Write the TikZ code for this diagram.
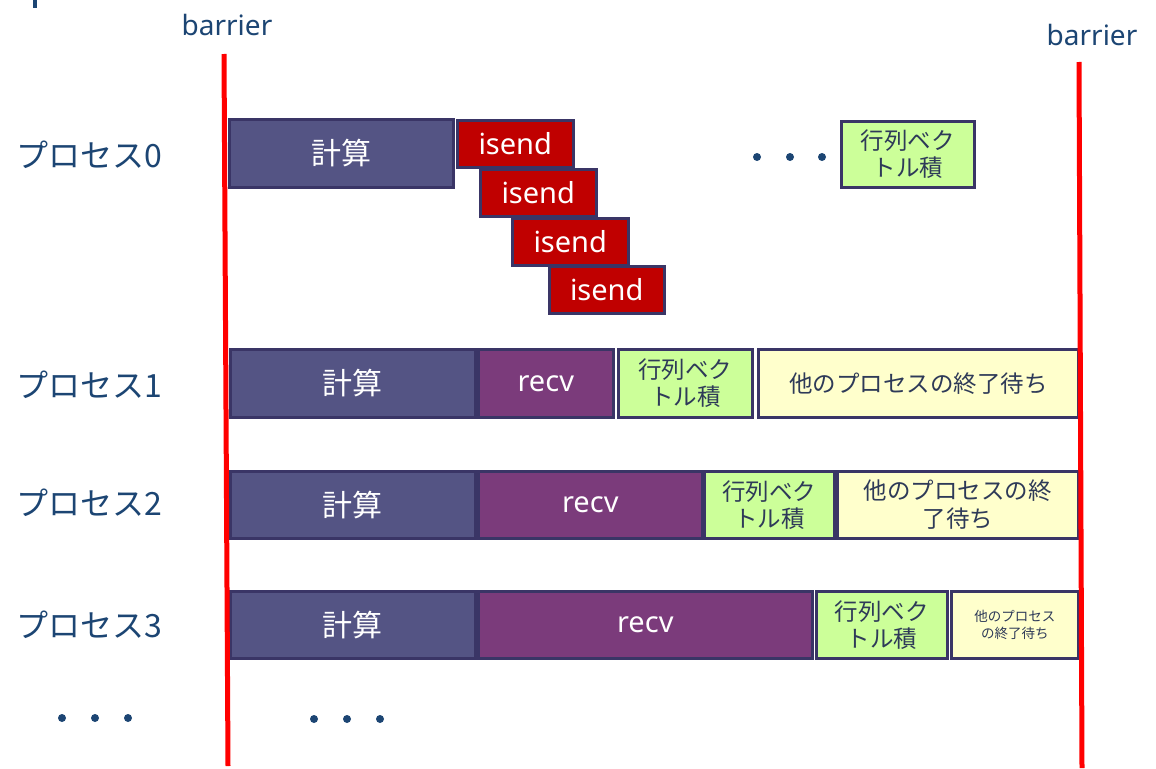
\documentclass[tikz,border=0pt]{standalone}
\usepackage{fontspec}
\setmainfont{Noto Sans}
\newfontfamily\jp{Noto Sans CJK JP}
\definecolor{navy}{HTML}{1C4573}
\definecolor{calcfill}{HTML}{545484}
\definecolor{edge}{HTML}{3A3566}
\definecolor{recvfill}{HTML}{7B3B7B}
\definecolor{sendfill}{HTML}{C00000}
\definecolor{matfill}{HTML}{CCFF99}
\definecolor{waitfill}{HTML}{FFFFCC}
\definecolor{boxtext}{HTML}{2E3A58}
\definecolor{barred}{HTML}{FF0000}
\begin{document}
\begin{tikzpicture}[x=1pt,y=-1pt,
  box/.style={draw=edge, line width=2.5pt, inner sep=0pt, anchor=north west, align=center},
  calcbox/.style={box, fill=calcfill, text=white, font=\jp\fontsize{30}{34}\selectfont},
  recvbox/.style={box, fill=recvfill, text=white, font=\fontsize{29}{32}\selectfont},
  sendbox/.style={box, fill=sendfill, text=white, font=\fontsize{29}{32}\selectfont},
  matbox/.style={box, fill=matfill, text=boxtext, font=\jp\fontsize{23.5}{27}\selectfont},
  waitbox/.style={box, fill=waitfill, text=boxtext, font=\jp\fontsize{23.5}{28}\selectfont},
  proc/.style={anchor=west, text=navy, inner sep=0pt, font=\jp\fontsize{32}{34}\selectfont},
  barlabel/.style={text=navy, inner sep=0pt, font=\fontsize{28}{30}\selectfont},
  barline/.style={draw=barred, line width=5pt},
  dot/.style={circle, fill=navy, inner sep=0pt, minimum size=8pt}
]
\useasboundingbox (0,0) rectangle (1156,768);

% fragment at top-left
\coordinate (fa) at (35,0);
\coordinate (fb) at (35,8);
\draw[navy, line width=4pt] (fa) -- (fb);

% barriers
\coordinate (b1t) at (224,54);
\coordinate (b1b) at (228,766);
\coordinate (b2t) at (1079,62);
\coordinate (b2b) at (1082,768);
\node[barlabel] (bl1) at (227,25) {barrier};
\node[barlabel] (bl2) at (1092,35) {barrier};

% process labels
\node[proc] (p0) at (16,155) {プロセス0};
\node[proc] (p1) at (16,385) {プロセス1};
\node[proc] (p2) at (16,503) {プロセス2};
\node[proc] (p3) at (16,625) {プロセス3};

% row 0
\node[calcbox, minimum width=224pt, minimum height=68pt] (c0) at (228,118) {計算};
\node[sendbox, minimum width=116pt, minimum height=47pt] (s1) at (456,119) {isend};
\node[sendbox, minimum width=116pt, minimum height=47pt] (s2) at (479,168) {isend};
\node[sendbox, minimum width=116pt, minimum height=47pt] (s3) at (511,217) {isend};
\node[sendbox, minimum width=115pt, minimum height=47pt] (s4) at (548,265) {isend};
\node[dot] (d01) at (757,157) {};
\node[dot] (d02) at (790,157) {};
\node[dot] (d03) at (822,157) {};
\node[matbox, minimum width=133pt, minimum height=66pt] (m0) at (840,120) {行列ベク\\トル積};

% row 1
\node[calcbox, minimum width=245pt, minimum height=68pt] (c1) at (229,348) {計算};
\node[recvbox, minimum width=135pt, minimum height=68pt] (r1) at (477,348) {recv};
\node[matbox, minimum width=134pt, minimum height=68pt] (m1) at (617,348) {行列ベク\\トル積};
\node[waitbox, minimum width=320pt, minimum height=68pt] (w1) at (757,348) {他のプロセスの終了待ち};

% row 2
\node[calcbox, minimum width=245pt, minimum height=67pt] (c2) at (229,470) {計算};
\node[recvbox, minimum width=224pt, minimum height=67pt] (r2) at (477,470) {recv};
\node[matbox, minimum width=130pt, minimum height=67pt] (m2) at (703,470) {行列ベク\\トル積};
\node[waitbox, minimum width=241pt, minimum height=67pt] (w2) at (836,470) {他のプロセスの終\\了待ち};

% row 3
\node[calcbox, minimum width=245pt, minimum height=67pt] (c3) at (229,590) {計算};
\node[recvbox, minimum width=334pt, minimum height=67pt] (r3) at (477,590) {recv};
\node[matbox, minimum width=131pt, minimum height=67pt] (m3) at (815,590) {行列ベク\\トル積};
\node[waitbox, minimum width=127pt, minimum height=67pt, font=\jp\fontsize{13.5}{17}\selectfont] (w3) at (950,590) {他のプロセス\\の終了待ち};

% bottom dots
\node[dot] (d11) at (62,718) {};
\node[dot] (d12) at (95,718) {};
\node[dot] (d13) at (128,718) {};
\node[dot] (d21) at (314,719) {};
\node[dot] (d22) at (347,719) {};
\node[dot] (d23) at (380,719) {};

% barrier lines on top
\draw[barline] (b1t) -- (b1b);
\draw[barline] (b2t) -- (b2b);
\end{tikzpicture}
\end{document}
